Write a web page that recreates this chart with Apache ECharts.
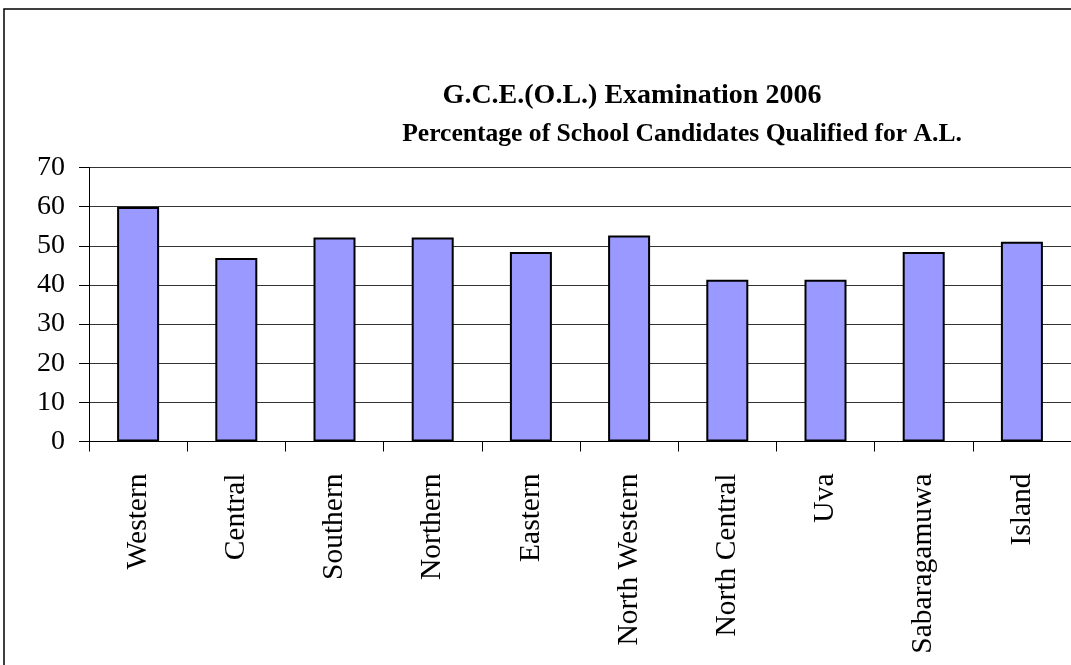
<!DOCTYPE html>
<html>
<head>
<meta charset="utf-8">
<script src="https://cdn.jsdelivr.net/npm/echarts@6/dist/echarts.min.js"></script>
<style>
html,body{margin:0;padding:0;background:#fff;}
#chart{width:1071px;height:665px;}
</style>
</head>
<body>
<div id="chart"></div>
<script>
const categories = ['Western','Central','Southern','Northern','Eastern','North Western','North Central','Uva','Sabaragamuwa','Island'];
const percentQualified = [59.9, 46.9, 52.1, 52.1, 48.4, 52.6, 41.3, 41.3, 48.4, 51.0];
const titleLine1 = 'G.C.E.(O.L.) Examination 2006';
const titleLine2 = 'Percentage of School Candidates Qualified for A.L.';
const yTicks = [0, 10, 20, 30, 40, 50, 60, 70];

const chart = echarts.init(document.getElementById('chart'), null, {renderer: 'canvas'});
const serif = '"Liberation Serif", "Times New Roman", serif';
chart.setOption({
  backgroundColor: '#fff',
  animation: false,
  title: [
    {text: titleLine1, left: 627, top: 77, textAlign: 'center',
     textStyle: {fontFamily: serif, fontWeight: 'bold', fontSize: 28, color: '#000'}},
    {text: titleLine2, left: 677, top: 116, textAlign: 'center',
     textStyle: {fontFamily: serif, fontWeight: 'bold', fontSize: 25.6, color: '#000'}}
  ],
  graphic: [{
    type: 'rect', shape: {x: 4, y: 9, width: 1200, height: 800},
    style: {fill: 'none', stroke: '#000', lineWidth: 1.5}, silent: true
  }],
  grid: {left: 89, top: 167.5, width: 995, height: 274, containLabel: false},
  xAxis: {
    type: 'category', data: categories, boundaryGap: true,
    axisLine: {show: true, lineStyle: {color: '#000', width: 1}},
    axisTick: {show: true, length: 10, interval: 0, lineStyle: {color: '#000'}},
    axisLabel: {rotate: 90, interval: 0, margin: 32, fontFamily: serif, fontSize: 29.5, color: '#000'},
    splitLine: {show: false}
  },
  yAxis: {
    type: 'value', min: 0, max: 70, interval: 10,
    axisLine: {show: true, lineStyle: {color: '#000', width: 1}},
    axisTick: {show: true, length: 10, lineStyle: {color: '#000'}},
    axisLabel: {margin: 24, fontFamily: serif, fontSize: 28, color: '#000',
      formatter: v => yTicks.includes(v) ? String(v) : ''},
    splitLine: {show: true, lineStyle: {color: '#333', width: 1}}
  },
  series: [{
    type: 'bar', data: percentQualified, barWidth: 42,
    itemStyle: {color: '#9999ff', borderColor: '#000', borderWidth: 2}
  }]
});
</script>
</body>
</html>
